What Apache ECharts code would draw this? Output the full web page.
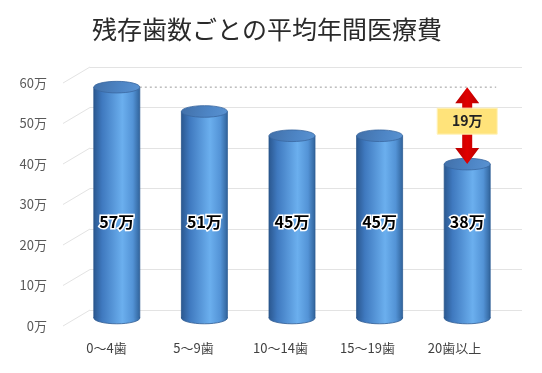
<!DOCTYPE html>
<html><head><meta charset="utf-8">
<script src="https://cdn.jsdelivr.net/npm/echarts@6/dist/echarts.min.js"></script>
<style>html,body{margin:0;padding:0;background:#fff}#c{width:542px;height:373px}</style>
</head><body><div id="c"></div>
<script>
const titleText = '残存歯数ごとの平均年間医療費';
const categories = ['0～4歯', '5～9歯', '10～14歯', '15～19歯', '20歯以上'];
const values = [57, 51, 45, 45, 38];
const yTicks = [0, 10, 20, 30, 40, 50, 60];
const unit = '万';
const gapFromIndex = 0;
const gapToIndex = 4;

const FONT = '"Noto Sans CJK JP", "Noto Sans", sans-serif';
const chart = echarts.init(document.getElementById('c'), null, {renderer: 'canvas'});

function cylinder(params, api) {
  const i = api.value(0), v = api.value(1);
  const top = api.coord([i, v]);
  const base = api.coord([i, 0]);
  const rx = 23, ry = 5.8;
  const cx = top[0];
  const grad = new echarts.graphic.LinearGradient(0, 0, 1, 0, [
    {offset: 0, color: '#2B5890'},
    {offset: 0.18, color: '#3F79BF'},
    {offset: 0.62, color: '#6BAFEE'},
    {offset: 0.85, color: '#5393D6'},
    {offset: 1, color: '#31649C'}
  ]);
  const lab = api.coord([i, 23.7]);
  return {
    type: 'group',
    children: [
      {type: 'ellipse', shape: {cx: cx, cy: base[1], rx: rx, ry: ry}, style: {fill: grad, stroke: '#2E5C93', lineWidth: 0.8}},
      {type: 'rect', shape: {x: cx - rx, y: top[1], width: rx * 2, height: base[1] - top[1]}, style: {fill: grad}},
      {type: 'line', shape: {x1: cx - rx, y1: top[1], x2: cx - rx, y2: base[1]}, style: {stroke: '#2A558A', lineWidth: 0.8}},
      {type: 'line', shape: {x1: cx + rx, y1: top[1], x2: cx + rx, y2: base[1]}, style: {stroke: '#2E5E96', lineWidth: 0.8}},
      {type: 'ellipse', shape: {cx: cx, cy: top[1], rx: rx, ry: ry}, style: {
        fill: new echarts.graphic.LinearGradient(0, 0, 1, 1, [
          {offset: 0, color: '#416FA8'}, {offset: 0.6, color: '#4E86C6'}, {offset: 1, color: '#5A93D2'}
        ]), stroke: '#3A679F', lineWidth: 0.8}},
      {type: 'text', x: lab[0], y: lab[1], style: {
        text: v + unit, font: 'bold 16px ' + FONT, fill: '#000', stroke: '#fff', lineWidth: 3,
        align: 'center', verticalAlign: 'middle'}}
    ]
  };
}

function annotation(params, api) {
  const hi = values[gapFromIndex], lo = values[gapToIndex];
  const p0 = api.coord([gapFromIndex, hi]);
  const pTop = api.coord([gapToIndex, hi]);
  const pBot = api.coord([gapToIndex, lo]);
  const cx = pTop[0];
  const yT = pTop[1], yB = pBot[1];
  const hw = 12, sw = 5, hh = 16;
  const pts = [
    [cx, yT], [cx + hw, yT + hh], [cx + sw, yT + hh], [cx + sw, yB - hh], [cx + hw, yB - hh],
    [cx, yB], [cx - hw, yB - hh], [cx - sw, yB - hh], [cx - sw, yT + hh], [cx - hw, yT + hh]
  ];
  const boxCy = yT + 34;
  return {
    type: 'group',
    children: [
      {type: 'line', shape: {x1: p0[0] + 23, y1: yT, x2: cx + 29, y2: yT}, style: {stroke: '#9a9a9a', lineWidth: 1, lineDash: [2, 3]}},
      {type: 'polygon', shape: {points: pts}, style: {fill: new echarts.graphic.LinearGradient(0, 0, 1, 0, [
        {offset: 0, color: '#B80000'}, {offset: 0.5, color: '#E00000'}, {offset: 1, color: '#B80000'}])}},
      {type: 'rect', shape: {x: cx - 30, y: boxCy - 13, width: 60, height: 26}, style: {fill: '#FFE37A', stroke: '#FFF2B8', lineWidth: 1}},
      {type: 'text', x: cx, y: boxCy, style: {text: (hi - lo) + unit, font: 'bold 14px ' + FONT, fill: '#222', align: 'center', verticalAlign: 'middle'}}
    ]
  };
}

function diagonals(params, api) {
  const y = api.coord([0, api.value(1)])[1];
  const x = params.coordSys.x;
  return {type: 'line', shape: {x1: x, y1: y, x2: x - 27, y2: y + 16}, style: {stroke: '#e3e3e3', lineWidth: 1}};
}

const option = {
  animation: false,
  backgroundColor: '#fff',
  title: {text: titleText, left: 87, top: 12, textStyle: {fontFamily: FONT, fontSize: 25, fontWeight: 'normal', color: '#2a2a2a'}},
  grid: [
    {left: 63, right: 44, top: 83, bottom: 47},
    {left: 90, right: 20, top: 67, bottom: 63},
    {left: 73, right: 31, top: 75, bottom: 55}
  ],
  xAxis: [
    {gridIndex: 0, type: 'category', data: categories, axisLine: {show: false}, axisTick: {show: false},
      axisLabel: {margin: 16, color: '#404040', fontSize: 13, fontFamily: FONT}},
    {gridIndex: 1, type: 'category', data: categories, show: false},
    {gridIndex: 2, type: 'category', data: categories, show: false}
  ],
  yAxis: [
    {gridIndex: 0, type: 'value', min: 0, max: 60, interval: 10, axisLine: {show: false}, axisTick: {show: false}, splitLine: {show: false},
      axisLabel: {formatter: '{value}' + unit, margin: 16, color: '#595959', fontSize: 13, fontFamily: FONT}},
    {gridIndex: 1, type: 'value', min: 0, max: 60, interval: 10, axisLine: {show: false}, axisTick: {show: false}, axisLabel: {show: false},
      splitLine: {lineStyle: {color: '#e3e3e3', width: 1}}},
    {gridIndex: 2, type: 'value', min: 0, max: 60, show: false}
  ],
  series: [
    {type: 'custom', xAxisIndex: 1, yAxisIndex: 1, data: yTicks.map(v => [0, v]), renderItem: diagonals, silent: true, z: 1},
    {type: 'custom', xAxisIndex: 2, yAxisIndex: 2, data: values.map((v, i) => [i, v]), renderItem: cylinder, z: 3},
    {type: 'custom', xAxisIndex: 2, yAxisIndex: 2, data: [[gapToIndex, values[gapFromIndex]]], renderItem: annotation, z: 4}
  ]
};
chart.setOption(option);
</script></body></html>
